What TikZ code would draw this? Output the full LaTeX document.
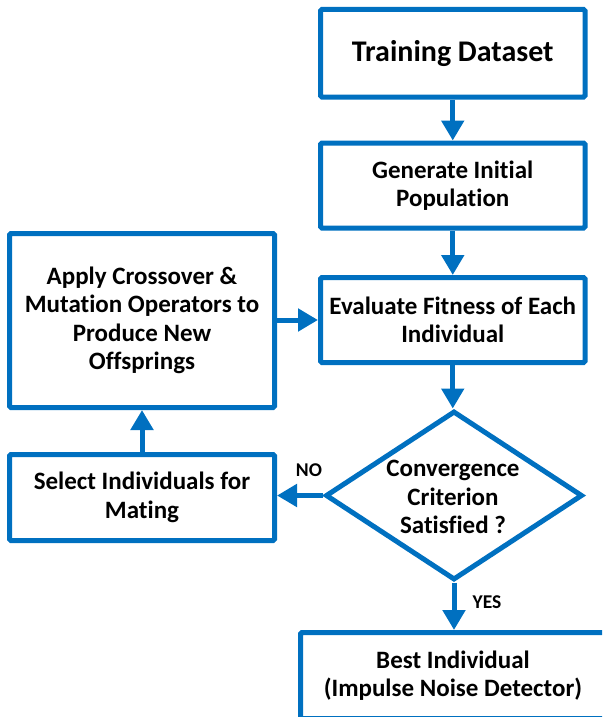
\documentclass[tikz,border=0pt]{standalone}
\usepackage{fontspec}
\setmainfont{Carlito}[Ligatures=NoCommon]
\usetikzlibrary{arrows.meta,shapes.geometric}
\definecolor{flowblue}{RGB}{0,112,192}
\tikzset{
  box/.style={draw=flowblue, line width=5pt, rounded corners=1.5pt, fill=white,
    inner sep=0pt, align=center, font=\bfseries\fontsize{25}{28.5}\selectfont, text=black},
  decision/.style={draw=flowblue, line width=5pt, diamond, inner sep=0pt, line join=miter, fill=white},
  txt/.style={align=center, font=\bfseries\fontsize{25}{28.5}\selectfont, text=black, inner sep=0pt},
  lbl/.style={font=\bfseries\fontsize{19.5}{22}\selectfont, text=black, inner sep=0pt},
  flow/.style={draw=flowblue, line width=5pt, -{Triangle[width=22pt,length=20pt]}},
}
\begin{document}
\begin{tikzpicture}[x=1pt,y=-1pt]
\useasboundingbox (0,0) rectangle (602,717);
\clip (0,0) rectangle (602,717);
\node[box, minimum width=264.5pt, minimum height=87.5pt,
      font=\bfseries\fontsize{30}{34}\selectfont] (train) at (452.75,53.25) {Training Dataset};
\node[box, minimum width=264.5pt, minimum height=85pt] (gen) at (452.75,185.5) {Generate Initial\\Population};
\node[box, minimum width=264.5pt, minimum height=85pt] (eval) at (452.75,320) {Evaluate Fitness of Each\\Individual};
\node[box, minimum width=265pt, minimum height=174pt] (apply) at (142,320.5) {Apply Crossover \&\\Mutation Operators to\\Produce New\\Offsprings};
\node[box, minimum width=265pt, minimum height=86pt] (select) at (142,497.5) {Select Individuals for\\Mating};
\node[decision, minimum width=257pt, minimum height=169pt] (dia) at (454,495.5) {};
\node[txt] (diatext) at (453,497) {Convergence\\Criterion\\Satisfied ?};
\node[box, minimum width=305pt, minimum height=86pt] (best) at (453,675.5) {Best Individual\\(Impulse Noise Detector)};
\node[lbl] (no) at (309,470) {NO};
\node[lbl] (yes) at (487,602) {YES};
\draw[flow] (train) -- (gen);
\draw[flow] (gen) -- (eval);
\draw[flow] (apply.east |- eval.west) -- (eval.west);
\draw[flow] (eval.south) -- (eval.south |- dia.north);
\draw[flow] (dia.west) -- (dia.west -| select.east);
\draw[flow] (select.north) -- (apply.south);
\draw[flow] (dia.south) -- (dia.south |- best.north);
\end{tikzpicture}
\end{document}
